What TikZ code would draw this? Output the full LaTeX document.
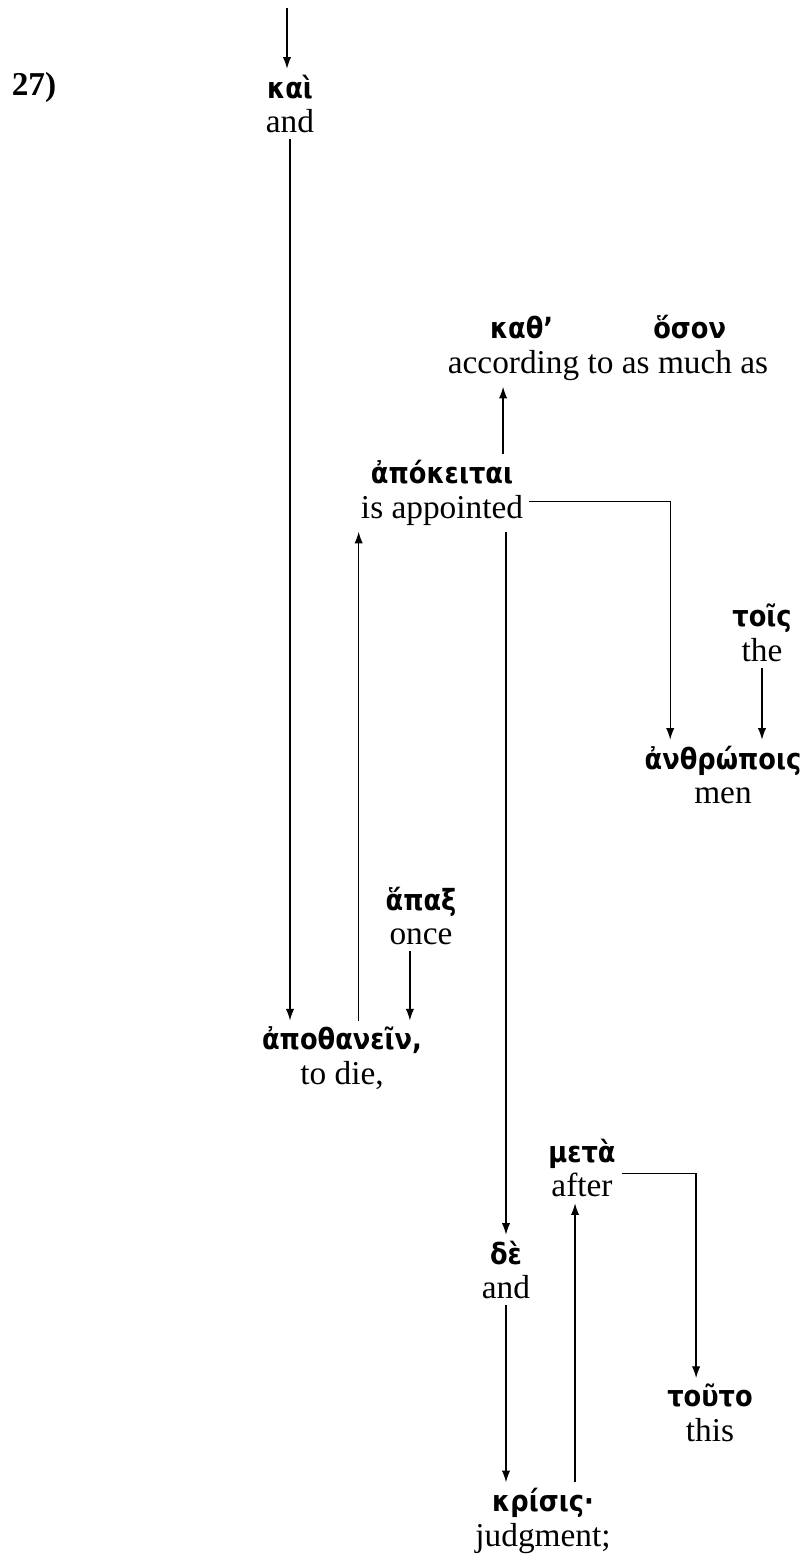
\documentclass[tikz,border=0pt]{standalone}
\usepackage{fontspec}
\setmainfont{Liberation Serif}
\newfontfamily\grfont{DejaVu Sans}[FakeStretch=0.88]
\usetikzlibrary{arrows.meta}
\newcommand{\gk}[1]{{\grfont\bfseries\fontsize{10.5}{12}\selectfont #1}}

\begin{document}
\begin{tikzpicture}[x = 0.36pt, y = -0.36pt]

    \tikzset{word/.style={align=center,inner sep=2pt,font=\fontsize{12}{12.5}\selectfont}}
    \tikzset{arr/.style={-{Latex[length=4.2pt,width=3pt]},line width=0.45pt}}

    \useasboundingbox (0,0) rectangle (805,1558);

    \node[font=\fontsize{12}{12.5}\selectfont\bfseries] (num) at ( 34, 87) {27)};
    \node[word] (kai) at ( 290, 104) {\gk{καὶ}\\and};
    \node[word] (kath) at ( 608, 348) {\gk{καθ’\hspace{36pt}ὅσον}\\according to as much as};
    \node[word] (apok) at ( 442, 493) {\gk{ἀπόκειται}\\is appointed};
    \node[word] (tois) at ( 762, 633) {\gk{τοῖς}\\the};
    \node[word] (anth) at ( 723, 775) {\gk{ἀνθρώποις}\\men};
    \node[word] (hapax) at ( 421, 916) {\gk{ἅπαξ}\\once};
    \node[word] (apoth) at ( 342, 1058) {\gk{ἀποθανεῖν,}\\to die,};
    \node[word] (meta) at ( 582, 1168) {\gk{μετὰ}\\after};
    \node[word] (de) at ( 506, 1270) {\gk{δὲ}\\and};
    \node[word] (touto) at ( 710, 1413) {\gk{τοῦτο}\\this};
    \node[word] (krisis) at ( 543, 1521) {\gk{κρίσις·}\\judgment;};

    % Entrada desde arriba.
    \coordinate (in) at ( 287, 8);

    \draw[arr] (in) -- (in |- kai.north);
    \draw[arr] (kai.south) -- (kai.south |- apoth.north);
    \draw[arr] ([xshift=6pt]apoth.north) -- ([xshift=6pt]apoth.north |- apok.south);
    \draw[arr] ([xshift=22pt]apok.north) -- ([xshift=22pt]apok.north |- kath.south);
    \draw[arr] ([yshift=-3pt]apok.east) -| ([xshift=-19pt]anth.north);
    \draw[arr] (tois.south) -- (tois.south |- anth.north);
    \draw[arr] (de.north |- apok.south) -- (de.north);
    \draw[arr] ([xshift=-4pt]hapax.south) -- ([xshift=-4pt]hapax.south |- apoth.north);
    \draw[arr] ([yshift=-2pt]meta.east) -| ([xshift=-5pt]touto.north);
    \draw[arr] (de.south) -- (de.south |- krisis.north);
    \draw[arr] ([xshift=-2.5pt]meta.south |- krisis.north) -- ([xshift=-2.5pt]meta.south);

\end{tikzpicture}
\end{document}
